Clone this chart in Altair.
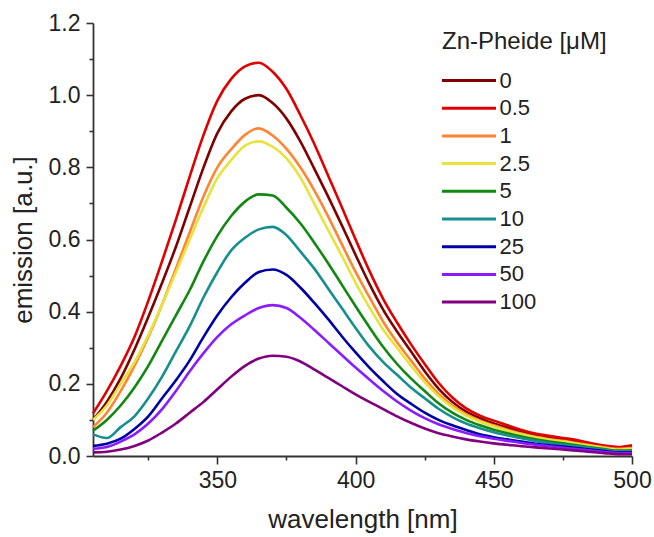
import altair as alt
import pandas as pd

wavelength = [305, 310, 315, 320, 325, 330, 335, 340, 345, 350,
              355, 360, 365, 370, 375, 380, 385, 390, 395, 400,
              405, 410, 415, 420, 425, 430, 435, 440, 445, 450,
              455, 460, 465, 470, 475, 480, 485, 490, 495, 500]

concentrations = ["0", "0.5", "1", "2.5", "5", "10", "25", "50", "100"]
colors = ["#800000", "#E00000", "#FF8533", "#E8E23A", "#118811",
          "#168F8F", "#0000A8", "#8A1CFF", "#800080"]

em_0 = [0.10, 0.15, 0.215, 0.295, 0.385, 0.48, 0.58, 0.69, 0.80, 0.895,
        0.955, 0.99, 1.0, 0.978, 0.935, 0.872, 0.797, 0.72, 0.64, 0.557,
        0.477, 0.405, 0.345, 0.29, 0.235, 0.187, 0.15, 0.123, 0.105, 0.09,
        0.078, 0.066, 0.057, 0.05, 0.045, 0.039, 0.032, 0.026, 0.022, 0.025]
em_05 = [0.118, 0.18, 0.25, 0.33, 0.43, 0.54, 0.655, 0.775, 0.89, 0.985,
         1.045, 1.08, 1.09, 1.065, 1.017, 0.945, 0.866, 0.778, 0.69, 0.60,
         0.513, 0.435, 0.37, 0.31, 0.255, 0.203, 0.162, 0.132, 0.112, 0.098,
         0.085, 0.072, 0.062, 0.056, 0.05, 0.044, 0.036, 0.029, 0.025, 0.03]
em_1 = [0.08, 0.12, 0.18, 0.25, 0.33, 0.42, 0.52, 0.62, 0.72, 0.80,
        0.85, 0.89, 0.908, 0.888, 0.851, 0.80, 0.737, 0.665, 0.587, 0.51,
        0.44, 0.372, 0.315, 0.265, 0.215, 0.172, 0.14, 0.116, 0.098, 0.085,
        0.073, 0.062, 0.053, 0.047, 0.042, 0.036, 0.03, 0.024, 0.02, 0.022]
em_25 = [0.10, 0.14, 0.20, 0.26, 0.335, 0.42, 0.51, 0.60, 0.69, 0.77,
         0.82, 0.86, 0.872, 0.857, 0.825, 0.772, 0.70, 0.627, 0.555, 0.48,
         0.412, 0.35, 0.30, 0.25, 0.205, 0.166, 0.135, 0.112, 0.095, 0.082,
         0.07, 0.06, 0.052, 0.045, 0.04, 0.034, 0.028, 0.022, 0.018, 0.02]
em_5 = [0.07, 0.10, 0.14, 0.19, 0.25, 0.32, 0.39, 0.46, 0.54, 0.61,
        0.665, 0.705, 0.725, 0.722, 0.688, 0.645, 0.592, 0.535, 0.475, 0.415,
        0.357, 0.302, 0.255, 0.215, 0.18, 0.146, 0.12, 0.10, 0.085, 0.073,
        0.063, 0.054, 0.046, 0.04, 0.035, 0.03, 0.024, 0.019, 0.015, 0.016]
em_10 = [0.06, 0.05, 0.08, 0.11, 0.16, 0.22, 0.29, 0.36, 0.44, 0.51,
         0.57, 0.605, 0.628, 0.635, 0.612, 0.567, 0.52, 0.465, 0.41, 0.355,
         0.303, 0.26, 0.225, 0.19, 0.16, 0.131, 0.108, 0.09, 0.077, 0.066,
         0.057, 0.049, 0.042, 0.036, 0.031, 0.027, 0.022, 0.017, 0.013, 0.013]
em_25u = [0.028, 0.034, 0.048, 0.075, 0.11, 0.16, 0.21, 0.265, 0.33, 0.39,
          0.44, 0.48, 0.51, 0.517, 0.502, 0.467, 0.425, 0.38, 0.332, 0.287,
          0.245, 0.207, 0.172, 0.145, 0.12, 0.10, 0.085, 0.072, 0.06, 0.052,
          0.046, 0.04, 0.034, 0.03, 0.026, 0.022, 0.018, 0.014, 0.01, 0.01]
em_50 = [0.02, 0.025, 0.04, 0.06, 0.09, 0.13, 0.18, 0.235, 0.285, 0.33,
         0.365, 0.39, 0.41, 0.418, 0.41, 0.383, 0.35, 0.315, 0.28, 0.245,
         0.212, 0.18, 0.151, 0.126, 0.105, 0.088, 0.075, 0.064, 0.055, 0.048,
         0.042, 0.036, 0.031, 0.027, 0.023, 0.019, 0.015, 0.011, 0.008, 0.008]
em_100 = [0.01, 0.012, 0.018, 0.028, 0.043, 0.065, 0.09, 0.12, 0.15, 0.185,
          0.22, 0.25, 0.27, 0.278, 0.275, 0.262, 0.24, 0.217, 0.194, 0.171,
          0.15, 0.13, 0.11, 0.092, 0.076, 0.063, 0.054, 0.046, 0.04, 0.035,
          0.031, 0.027, 0.024, 0.021, 0.018, 0.015, 0.011, 0.008, 0.005, 0.005]

series = [em_0, em_05, em_1, em_25, em_5, em_10, em_25u, em_50, em_100]

rows = []
for conc, vals in zip(concentrations, series):
    for w, v in zip(wavelength, vals):
        rows.append({"wavelength": w, "emission": v, "conc": conc})
df = pd.DataFrame(rows)

FONT = "Liberation Sans"
AXIS_COLOR = "#333333"
TEXT_COLOR = "#222222"

x_axis = alt.Axis(
    title="wavelength [nm]",
    values=[325, 350, 375, 400, 425, 450, 475, 500],
    labelExpr="datum.value % 50 === 0 ? datum.label : ''",
    tickSize={"condition": {"test": "datum.value % 50 === 0", "value": 8}, "value": 4},
    grid=False,
    domainColor=AXIS_COLOR, domainWidth=1.8,
    tickColor=AXIS_COLOR, tickWidth=1.6,
    labelFont=FONT, labelFontSize=23, labelColor=TEXT_COLOR, labelPadding=5,
    labelFlush=False,
    titleFont=FONT, titleFontSize=26, titleFontWeight="normal", titleColor=TEXT_COLOR,
    titlePadding=14,
)

y_axis = alt.Axis(
    title="emission [a.u.]",
    values=[0, 0.1, 0.2, 0.3, 0.4, 0.5, 0.6, 0.7, 0.8, 0.9, 1.0, 1.1, 1.2],
    labelExpr="round(datum.value * 10) % 2 === 0 ? format(datum.value, '.1f') : ''",
    tickSize={"condition": {"test": "round(datum.value * 10) % 2 === 0", "value": 7}, "value": 4},
    grid=False,
    domainColor=AXIS_COLOR, domainWidth=1.8,
    tickColor=AXIS_COLOR, tickWidth=1.6,
    labelFont=FONT, labelFontSize=23, labelColor=TEXT_COLOR, labelPadding=6,
    labelFlush=False,
    titleFont=FONT, titleFontSize=26, titleFontWeight="normal", titleColor=TEXT_COLOR,
    titlePadding=12,
)

legend = alt.Legend(
    title="Zn-Pheide [μM]",
    orient="none", legendX=349, legendY=7,
    titleFont=FONT, titleFontSize=24, titleFontWeight="normal", titleColor=TEXT_COLOR,
    titlePadding=14,
    labelFont=FONT, labelFontSize=22, labelColor=TEXT_COLOR,
    symbolType="M-2.5,0H2.5", symbolSize=467, symbolStrokeWidth=3,
    symbolOffset=14.5, labelOffset=18, rowPadding=3.7,
)

chart = alt.Chart(df).mark_line(strokeWidth=2.6, interpolate="monotone").encode(
    x=alt.X("wavelength:Q", scale=alt.Scale(domain=[305, 500], nice=False, zero=False), axis=x_axis),
    y=alt.Y("emission:Q", scale=alt.Scale(domain=[0, 1.2], nice=False), axis=y_axis),
    color=alt.Color("conc:N", sort=concentrations,
                    scale=alt.Scale(domain=concentrations, range=colors), legend=legend),
).properties(
    width=539, height=433,
    padding={"left": 93, "top": 23, "right": 22, "bottom": 81},
    autosize=alt.AutoSizeParams(type="none"),
).configure_view(stroke=None)

chart.save("out.html", embed_options={"renderer": "svg", "actions": False})
